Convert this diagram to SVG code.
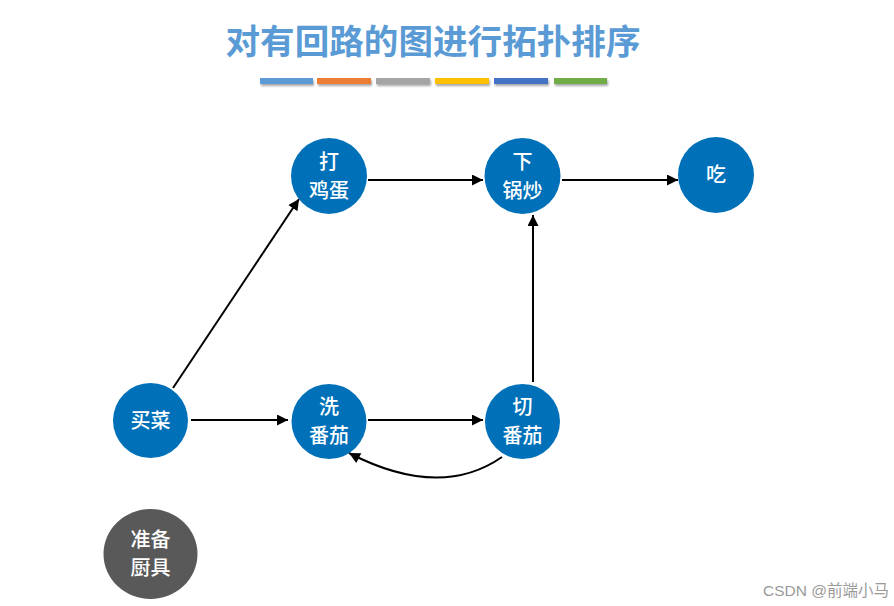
<svg xmlns="http://www.w3.org/2000/svg" width="894" height="606" viewBox="0 0 894 606">
<style>
.title{font-family:"Noto Sans CJK SC","Noto Sans",sans-serif;font-size:34.6px;font-weight:bold;fill:#5b9bd5}
.node circle{fill:#0071b9}
.lbl{font-family:"Noto Sans CJK SC","Noto Sans",sans-serif;font-size:20px;font-weight:500;fill:#ffffff;text-anchor:middle}
.edge{stroke:#000;stroke-width:2;fill:none;marker-end:url(#arr)}
.wm{font-family:"Liberation Sans","Noto Sans CJK SC",sans-serif;font-size:15.5px;fill:#9a9a9a}
</style>
<defs>
<marker id="arr" viewBox="0 0 10 10" refX="10" refY="5" markerWidth="6" markerHeight="5.5" orient="auto" markerUnits="strokeWidth">
<path d="M0,0 L10,5 L0,10 z" fill="#000"/>
</marker>
<filter id="sh" x="-10%" y="-50%" width="130%" height="250%">
<feDropShadow dx="1" dy="2" stdDeviation="1.2" flood-color="#000" flood-opacity="0.35"/>
</filter>
</defs>
<rect width="894" height="606" fill="#fff"/>
<text class="title" x="433" y="54" text-anchor="middle">对有回路的图进行拓扑排序</text>
<g id="bars" filter="url(#sh)">
<rect x="260" y="78" width="53" height="6" fill="#5b9bd5"/>
<rect x="317" y="78" width="54" height="6" fill="#ed7d31"/>
<rect x="376" y="78" width="54" height="6" fill="#a5a5a5"/>
<rect x="435" y="78" width="54" height="6" fill="#ffc000"/>
<rect x="494" y="78" width="54" height="6" fill="#4472c4"/>
<rect x="554" y="78" width="53" height="6" fill="#70ad47"/>
</g>
<g id="connectors">
<path class="edge" d="M173,388 L299,199"/>
<path class="edge" d="M191,420 L288,420"/>
<path class="edge" d="M368,420 L483,420"/>
<path class="edge" d="M368,180 L483,180"/>
<path class="edge" d="M562,180 L678,180"/>
<path class="edge" d="M533,382 L533,215"/>
<path class="edge" d="M502,457 Q440,500 349,453" stroke-width="2.4"/>
</g>
<g id="n-dajidan" class="node"><circle cx="329" cy="176" r="38"/><text class="lbl" x="329" y="169">打</text><text class="lbl" x="329" y="198">鸡蛋</text></g>
<g id="n-xiaguochao" class="node"><circle cx="522.5" cy="176" r="38"/><text class="lbl" x="522.5" y="169">下</text><text class="lbl" x="522.5" y="198">锅炒</text></g>
<g id="n-chi" class="node"><circle cx="716" cy="175" r="38"/><text class="lbl" x="716" y="182">吃</text></g>
<g id="n-maicai" class="node"><circle cx="150.5" cy="420.5" r="37.5"/><text class="lbl" x="150.5" y="428">买菜</text></g>
<g id="n-xifanqie" class="node"><circle cx="329" cy="421.5" r="37.5"/><text class="lbl" x="329" y="414">洗</text><text class="lbl" x="329" y="443">番茄</text></g>
<g id="n-qiefanqie" class="node"><circle cx="522.5" cy="421.5" r="37.5"/><text class="lbl" x="522.5" y="414">切</text><text class="lbl" x="522.5" y="443">番茄</text></g>
<g id="n-zhunbei"><ellipse cx="150.5" cy="554" rx="47" ry="45" fill="#595959"/><text class="lbl" x="150.5" y="547">准备</text><text class="lbl" x="150.5" y="575">厨具</text></g>
<text class="wm" x="889" y="596" text-anchor="end">CSDN @前端小马</text>
</svg>
